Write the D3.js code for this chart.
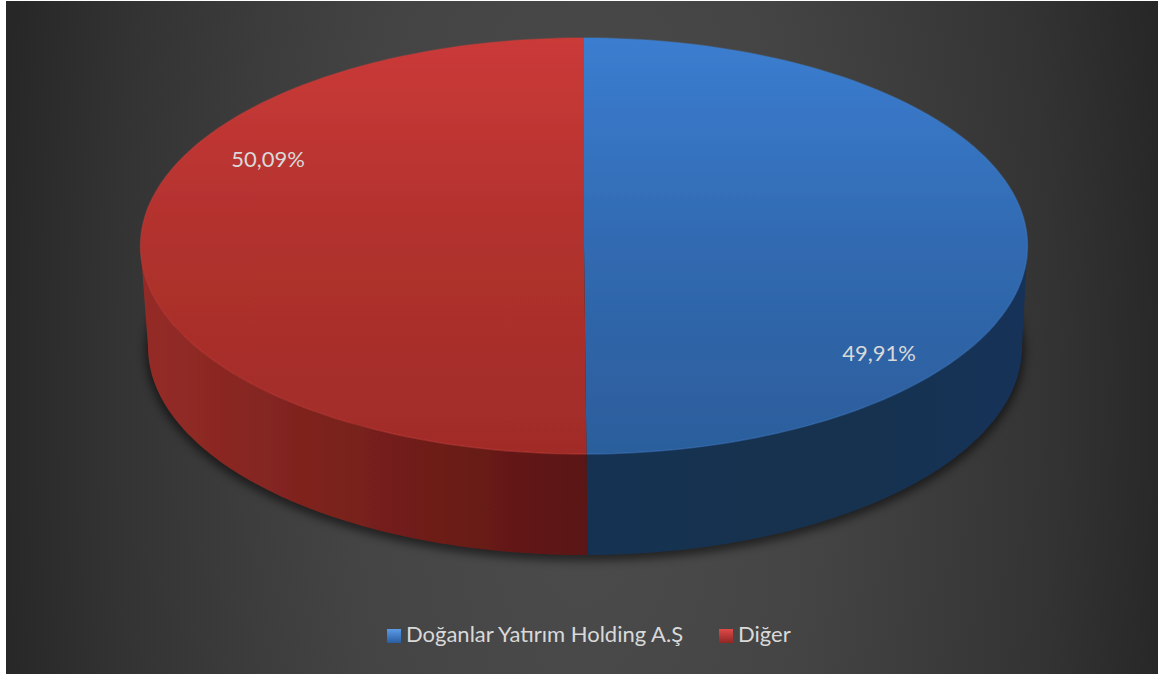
<!DOCTYPE html>
<html><head><meta charset="utf-8">
<script src="https://cdn.jsdelivr.net/npm/d3@7/dist/d3.min.js"></script>
<style>html,body{margin:0;padding:0;background:#fff}svg{display:block}</style>
</head><body><svg id="c" width="1158" height="675"></svg>
<script>
const categories = ["Doğanlar Yatırım Holding A.Ş", "Diğer"];
const values = [49.91, 50.09];
const labels = ["49,91%", "50,09%"];
const svg = d3.select("#c"), defs = svg.append("defs");
const W=1158,H=675, cx=584, cy=246, rx=443.5, ry=208, bx=585, by=347, brx=437, bry=208;

function grad(id,dir,stops,attrs){
  const g=defs.append(dir==="r"?"radialGradient":"linearGradient").attr("id",id);
  Object.entries(attrs||{}).forEach(([k,v])=>g.attr(k,v));
  stops.forEach(([o,c])=>g.append("stop").attr("offset",o).attr("stop-color",c));
}
grad("bg","r",[[0,"#4c4c4c"],[0.4,"#444444"],[0.8,"#333333"],[1,"#272727"]],{gradientUnits:"userSpaceOnUse",cx:0,cy:0,r:1,gradientTransform:"translate(583,400) scale(590,1500)"});
grad("topB","l",[[0,"#3b7dd0"],[0.55,"#3068ae"],[1,"#2c5e9c"]],{x1:0,y1:0,x2:0,y2:1});
grad("topR","l",[[0,"#ca3a38"],[0.5,"#b0312d"],[1,"#a02c28"]],{x1:0,y1:0,x2:0,y2:1});
grad("sideB","l",[[0,"#163052"],[0.6,"#17304f"],[1,"#153158"]],{x1:0,y1:0,x2:1,y2:0});
grad("sideR","l",[[0,"#952c27"],[0.45,"#7a211d"],[1,"#5a1512"]],{x1:0,y1:0,x2:1,y2:0});
const blur=defs.append("filter").attr("id","sh").attr("x","-10%").attr("y","-10%").attr("width","120%").attr("height","120%");
blur.append("feGaussianBlur").attr("stdDeviation",4);
const soft=defs.append("filter").attr("id","sf").attr("x","-5%").attr("y","-5%").attr("width","110%").attr("height","110%");
soft.append("feGaussianBlur").attr("stdDeviation",0.7);

svg.append("rect").attr("width",W).attr("height",H).attr("fill","#fff");
svg.append("rect").attr("x",6).attr("y",1).attr("width",W-6).attr("height",H-2).attr("fill","url(#bg)");

const pie=d3.pie().sort(null).value(d=>d);
const arcs=pie(values);
const topFill=["url(#topB)","url(#topR)"], sideFill=["url(#sideB)","url(#sideR)"];
const rimFill=["#3f82d2","#cf3f3c"];

const pt=(a,c)=>[c.x+c.rx*Math.sin(a), c.y-c.ry*Math.cos(a)];
const T={x:cx,y:cy,rx:rx,ry:ry}, B={x:bx,y:by,rx:brx,ry:bry};
function arcPts(a0,a1,c){return d3.range(0,121).map(i=>pt(a0+(a1-a0)*i/120,c));}
const line=d3.line();

svg.append("ellipse").attr("cx",bx).attr("cy",by+4).attr("rx",brx+3).attr("ry",bry+2).attr("fill","#000").attr("opacity",.5).attr("filter","url(#sh)");

const pieG=svg.append("g").attr("filter","url(#sf)");
arcs.forEach((d,i)=>{
  const a0=Math.max(d.startAngle,Math.PI/2), a1=Math.min(d.endAngle,3*Math.PI/2);
  if(a1<=a0) return;
  const pts=arcPts(a0,a1,T).concat(arcPts(a1,a0,B));
  pieG.append("path").attr("d",line(pts)+"Z").attr("fill",sideFill[i]);
});
arcs.forEach((d,i)=>{
  const pts=[[cx,cy]].concat(arcPts(d.startAngle,d.endAngle,T));
  pieG.append("path").attr("d",line(pts)+"Z").attr("fill",topFill[i]);
  pieG.append("path").attr("d",line(arcPts(d.startAngle,d.endAngle,T))).attr("fill","none").attr("stroke",rimFill[i]).attr("stroke-opacity",.4).attr("stroke-width",1.5);
});

const labelPos=[[879,353],[268,159]];
const font="Lato,'Open Sans',sans-serif", fs=22;
svg.append("g").selectAll("text").data(labels).join("text")
  .attr("x",(d,i)=>labelPos[i][0]).attr("y",(d,i)=>labelPos[i][1])
  .attr("dy","0.35em").attr("text-anchor","middle")
  .attr("font-family",font).attr("font-size",fs).attr("fill","#d9d9d9").text(d=>d);

const legX=[387,719], legC=[["#5b9be8","#2a5da0"],["#e04a48","#8f2624"]];
legC.forEach((c,i)=>grad("lg"+i,"l",[[0,c[0]],[1,c[1]]],{x1:0,y1:0,x2:0,y2:1}));
const leg=svg.append("g").selectAll("g").data(categories).join("g");
leg.append("rect").attr("x",(d,i)=>legX[i]).attr("y",629).attr("width",14).attr("height",14).attr("fill",(d,i)=>`url(#lg${i})`);
leg.append("text").attr("x",(d,i)=>legX[i]+19).attr("y",634.5).attr("dy","0.35em")
  .attr("font-family",font).attr("font-size",fs).attr("fill","#d9d9d9").text(d=>d);
</script></body></html>
